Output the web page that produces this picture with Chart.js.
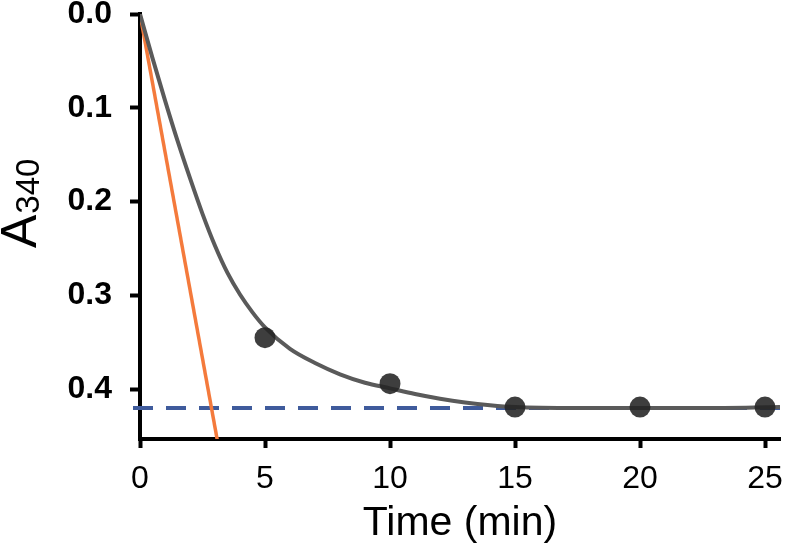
<!DOCTYPE html>
<html>
  <head>
    <title>A340 vs time</title>
    <script src="https://cdn.jsdelivr.net/npm/chart.js@4.4.0/dist/chart.umd.min.js"></script>
    <style>
      body { margin: 0; background: #fff; }
      #wrap { width: 787px; height: 548px; position: relative; }
    </style>
  </head>
  <body>
    <div id="wrap"><canvas id="chart"></canvas></div>

    <script type="text/javascript">

      // measured points
      const times = [5, 10, 15, 20, 25];
      const absorb = [0.345, 0.394, 0.419, 0.419, 0.419];

      // fitted curve
      const fitT = [0, 0.5, 1, 1.5, 2, 2.5, 3, 3.5, 4, 4.5, 5, 6, 7, 8, 9, 10, 11, 12, 13, 14, 15, 17.5, 20, 22.5, 25.6];
      const fitA = [0, 0.047, 0.092, 0.135, 0.175, 0.213, 0.247, 0.276, 0.299, 0.318, 0.334, 0.357, 0.372, 0.384, 0.393, 0.399, 0.405, 0.41, 0.414, 0.417, 0.419, 0.42, 0.42, 0.42, 0.419];

      // initial rate line
      const rateT = [0, 3.2];
      const rateA = [0, 0.47];

      // plateau
      const plateauT = [-0.28, 25.6];
      const plateauA = [0.42, 0.42];

      const xTicks = [0, 5, 10, 15, 20, 25];
      const yTicks = [0, 0.1, 0.2, 0.3, 0.4];

      const FONT = '"Liberation Sans", Arial, Helvetica, sans-serif';

      function pairs(xs, ys) {
        return xs.map((x, i) => ({x: x, y: ys[i]}));
      }

      const yTitle = {
        id: 'yTitle',
        afterDraw(chart) {
          const ctx = chart.ctx;
          ctx.save();
          ctx.translate(36, 248);
          ctx.rotate(-Math.PI / 2);
          ctx.fillStyle = '#000';
          ctx.textAlign = 'left';
          ctx.textBaseline = 'alphabetic';
          ctx.font = '50px ' + FONT;
          ctx.fillText('A', 0, 0);
          const w = ctx.measureText('A').width;
          ctx.font = '33px ' + FONT;
          ctx.fillText('340', w + 1, 3);
          ctx.restore();
        }
      };

      const ctx = document.getElementById('chart').getContext('2d');

      const myChart = new Chart(ctx, {
        type: 'scatter',
        data: {
          datasets: [
            {
              label: 'data',
              data: pairs(times, absorb),
              showLine: false,
              pointRadius: 10.5,
              pointBackgroundColor: 'rgba(35,35,35,0.88)',
              pointBorderWidth: 0,
              order: 0
            },
            {
              label: 'fit',
              data: pairs(fitT, fitA),
              showLine: true,
              borderColor: '#5a5a5a',
              borderWidth: 4,
              pointRadius: 0,
              cubicInterpolationMode: 'monotone',
              order: 1
            },
            {
              label: 'rate',
              data: pairs(rateT, rateA),
              showLine: true,
              borderColor: '#f47a3c',
              borderWidth: 3.5,
              pointRadius: 0,
              order: 2
            },
            {
              label: 'plateau',
              data: pairs(plateauT, plateauA),
              showLine: true,
              borderColor: '#3f5b9c',
              borderWidth: 4,
              borderDash: [20, 13],
              pointRadius: 0,
              clip: false,
              order: 3
            }
          ]
        },
        options: {
          responsive: true,
          maintainAspectRatio: false,
          animation: false,
          layout: { autoPadding: false, padding: { top: 14, right: 7, left: 0, bottom: 0 } },
          plugins: {
            legend: { display: false },
            tooltip: { enabled: false }
          },
          scales: {
            x: {
              type: 'linear',
              min: 0,
              max: 25.6,
              afterFit: (s) => { s.height = 109; s.paddingLeft = 0; s.paddingRight = 0; },
              afterBuildTicks: (s) => { s.ticks = xTicks.map(v => ({value: v})); },
              border: { color: '#000', width: 4 },
              grid: { drawOnChartArea: false, color: '#000', tickLength: 9, tickWidth: 4 },
              ticks: {
                color: '#000',
                padding: 12,
                font: { family: FONT, size: 32 }
              },
              title: {
                display: true,
                text: 'Time (min)',
                color: '#000',
                font: { family: FONT, size: 41 },
                padding: { top: 0, bottom: 0 }
              }
            },
            y: {
              type: 'linear',
              reverse: true,
              min: 0,
              max: 0.453,
              afterFit: (s) => { s.width = 140; s.paddingTop = 0; s.paddingBottom = 0; },
              afterBuildTicks: (s) => { s.ticks = yTicks.map(v => ({value: v})); },
              border: { color: '#000', width: 4 },
              grid: { drawOnChartArea: false, color: '#000', tickLength: 10, tickWidth: 4 },
              ticks: {
                color: '#000',
                padding: 18,
                font: { family: FONT, size: 32, weight: 'bold' },
                callback: (v) => v.toFixed(1)
              }
            }
          }
        },
        plugins: [yTitle]
      });

    </script>
  </body>
</html>
